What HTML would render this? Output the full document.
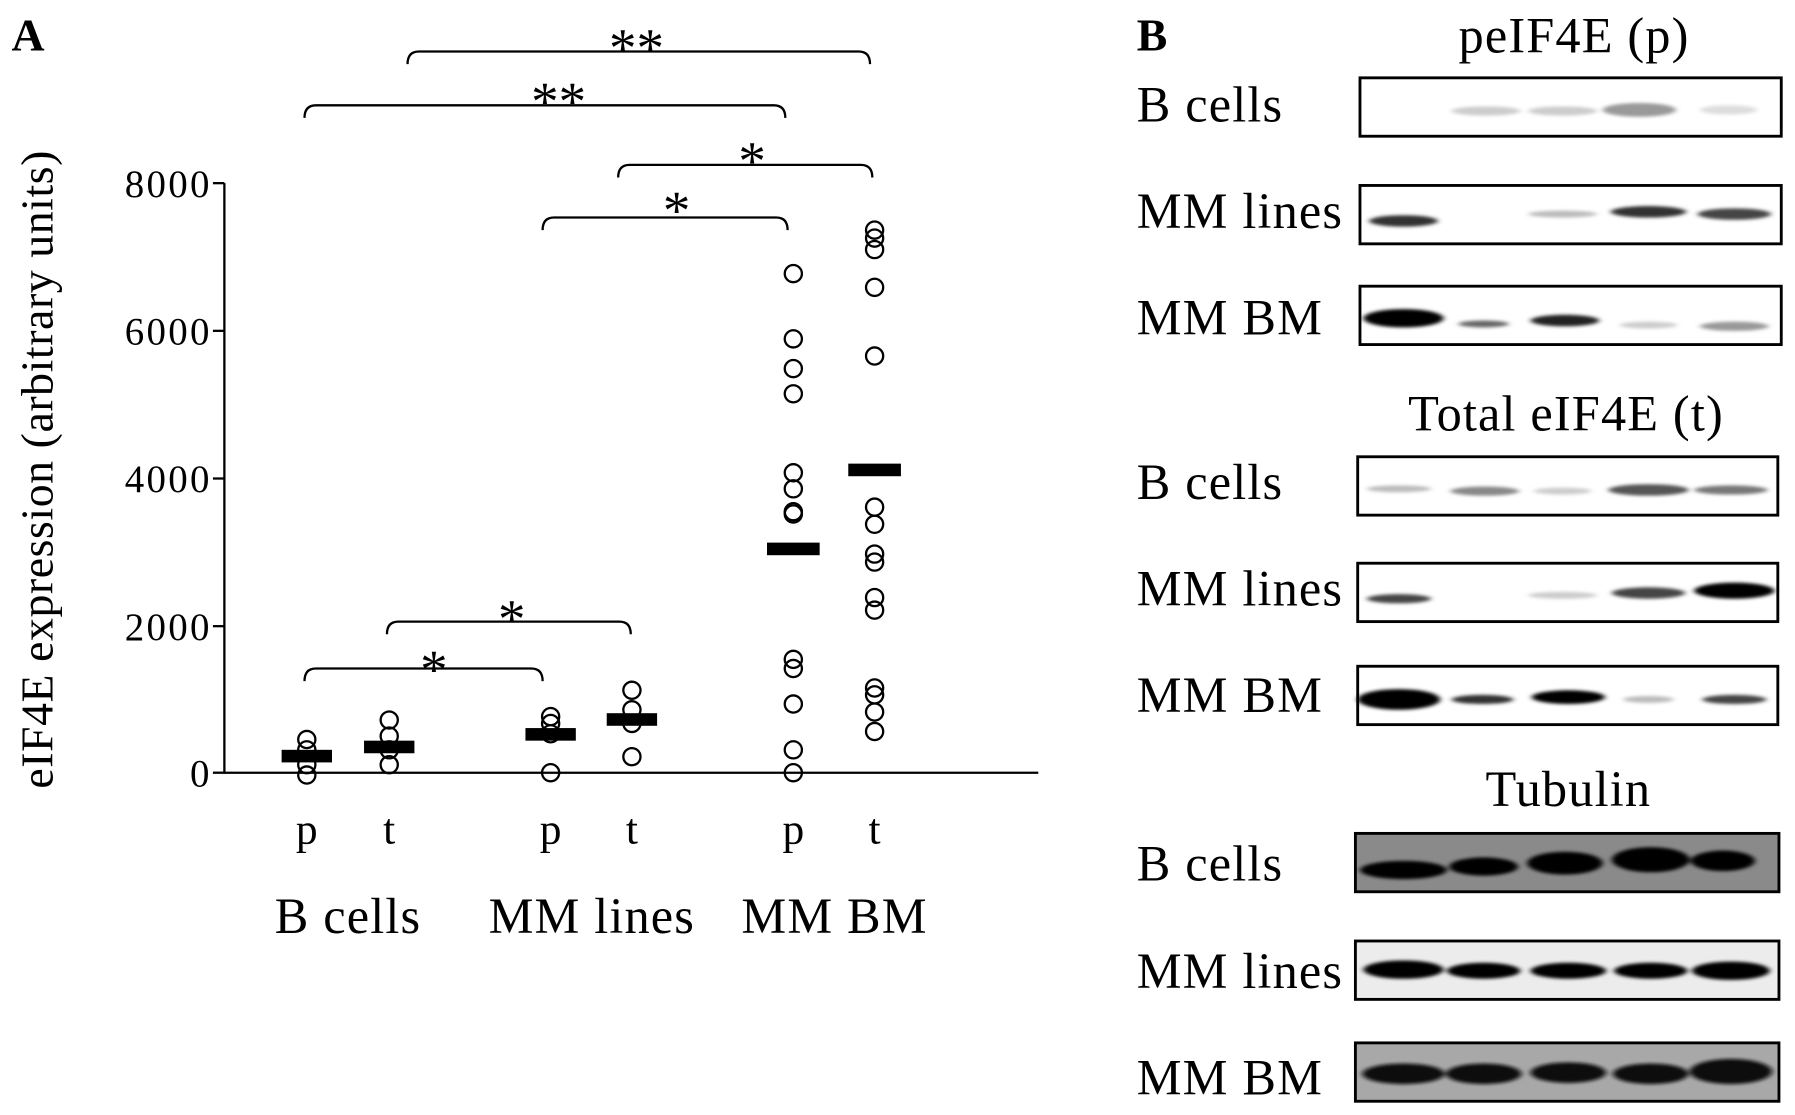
<!DOCTYPE html>
<html><head><meta charset="utf-8"><style>html,body{margin:0;padding:0;background:#fff}svg{display:block}</style></head>
<body>
<svg width="1795" height="1115" viewBox="0 0 1568 974" xmlns="http://www.w3.org/2000/svg" font-family="Liberation Serif, serif">
<defs><filter id="bl" x="-20%" y="-200%" width="140%" height="500%"><feGaussianBlur stdDeviation="2.5 1.5"/></filter></defs>
<text x="10" y="44" font-size="40" font-weight="bold">A</text>
<g stroke="#000" stroke-width="2" fill="none">
<line x1="196" y1="160" x2="196" y2="676"/><line x1="196" y1="675" x2="907" y2="675"/>
<line x1="186" y1="160" x2="196" y2="160"/><line x1="186" y1="289" x2="196" y2="289"/><line x1="186" y1="418" x2="196" y2="418"/><line x1="186" y1="547" x2="196" y2="547"/><line x1="186" y1="675" x2="196" y2="675"/>
<path d="M356 56 Q356 45 366 45 L750 45 Q760 45 760 56"/>
<path d="M266 103 Q266 92 276 92 L676 92 Q686 92 686 103"/>
<path d="M540 155 Q540 144 550 144 L752 144 Q762 144 762 155"/>
<path d="M474 201 Q474 190 484 190 L678 190 Q688 190 688 201"/>
<path d="M338 554 Q338 543 348 543 L541 543 Q551 543 551 554"/>
<path d="M266 595 Q266 584 276 584 L464 584 Q474 584 474 595"/>
</g>
<g font-size="48" text-anchor="middle">
<text x="556" y="58">**</text><text x="488" y="105">**</text><text x="657" y="157">*</text><text x="591" y="200">*</text><text x="447" y="557">*</text><text x="379" y="601">*</text>
</g>
<g font-size="34" text-anchor="end" letter-spacing="2">
<text x="185" y="172">8000</text><text x="185" y="301">6000</text><text x="185" y="430">4000</text><text x="185" y="559">2000</text><text x="185" y="687">0</text>
</g>
<text transform="translate(46,410) rotate(-90)" font-size="40" letter-spacing="0.5" text-anchor="middle">eIF4E expression (arbitrary units)</text>
<g font-size="38" text-anchor="middle">
<text x="268" y="737">p</text><text x="340" y="737">t</text><text x="481" y="737">p</text><text x="552" y="737">t</text><text x="693" y="737">p</text><text x="764" y="737">t</text>
</g>
<g font-size="44" text-anchor="middle" letter-spacing="1">
<text x="304" y="815">B cells</text><text x="517" y="815">MM lines</text><text x="729" y="815">MM BM</text>
</g>
<g stroke="#000" stroke-width="2" fill="none">
<circle cx="268" cy="646" r="7.5"/><circle cx="268" cy="655" r="7.5"/><circle cx="268" cy="668" r="7.5"/><circle cx="268" cy="677" r="7.5"/>
<circle cx="340" cy="629" r="7.5"/><circle cx="340" cy="643" r="7.5"/><circle cx="340" cy="655" r="7.5"/><circle cx="340" cy="668" r="7.5"/>
<circle cx="481" cy="626" r="7.5"/><circle cx="481" cy="632" r="7.5"/><circle cx="481" cy="641" r="7.5"/><circle cx="481" cy="675" r="7.5"/>
<circle cx="552" cy="603" r="7.5"/><circle cx="552" cy="620" r="7.5"/><circle cx="552" cy="632" r="7.5"/><circle cx="552" cy="661" r="7.5"/>
<circle cx="693" cy="239" r="7.5"/><circle cx="693" cy="296" r="7.5"/><circle cx="693" cy="322" r="7.5"/><circle cx="693" cy="344" r="7.5"/><circle cx="693" cy="413" r="7.5"/><circle cx="693" cy="427" r="7.5"/><circle cx="693" cy="447" r="7.5"/><circle cx="693" cy="449" r="7.5"/><circle cx="693" cy="576" r="7.5"/><circle cx="693" cy="584" r="7.5"/><circle cx="693" cy="615" r="7.5"/><circle cx="693" cy="655" r="7.5"/><circle cx="693" cy="675" r="7.5"/>
<circle cx="764" cy="201" r="7.5"/><circle cx="764" cy="208" r="7.5"/><circle cx="764" cy="218" r="7.5"/><circle cx="764" cy="251" r="7.5"/><circle cx="764" cy="311" r="7.5"/><circle cx="764" cy="443" r="7.5"/><circle cx="764" cy="458" r="7.5"/><circle cx="764" cy="484" r="7.5"/><circle cx="764" cy="491" r="7.5"/><circle cx="764" cy="522" r="7.5"/><circle cx="764" cy="533" r="7.5"/><circle cx="764" cy="601" r="7.5"/><circle cx="764" cy="607" r="7.5"/><circle cx="764" cy="622" r="7.5"/><circle cx="764" cy="639" r="7.5"/>
</g>
<g fill="#000">
<rect x="246" y="655" width="44" height="11"/><rect x="318" y="647" width="44" height="11"/><rect x="459" y="636" width="44" height="11"/><rect x="530" y="623" width="44" height="11"/><rect x="670" y="474" width="46" height="11"/><rect x="741" y="405" width="46" height="11"/>
</g>
<text x="993" y="44" font-size="40" font-weight="bold">B</text>
<g font-size="44" letter-spacing="1">
<text x="1375" y="46" text-anchor="middle">peIF4E (p)</text>
<text x="1368" y="376" text-anchor="middle">Total eIF4E (t)</text>
<text x="1370" y="704" text-anchor="middle">Tubulin</text>
<text x="993" y="106">B cells</text><text x="993" y="199">MM lines</text><text x="993" y="292">MM BM</text>
<text x="993" y="436">B cells</text><text x="993" y="529">MM lines</text><text x="993" y="622">MM BM</text>
<text x="993" y="769">B cells</text><text x="993" y="863">MM lines</text><text x="993" y="956">MM BM</text>
</g>
<rect x="1184" y="728" width="370" height="51" fill="#8a8a8a"/>
<rect x="1184" y="822" width="370" height="51" fill="#ececec"/>
<rect x="1184" y="911" width="370" height="51" fill="#a8a8a8"/>
<g filter="url(#bl)">
<ellipse cx="1298" cy="97" rx="30" ry="4" fill="#ccc"/><ellipse cx="1365" cy="97" rx="30" ry="4" fill="#ccc"/><ellipse cx="1432" cy="96" rx="32" ry="6" fill="#999"/><ellipse cx="1510" cy="96" rx="25" ry="4" fill="#ddd"/>
<ellipse cx="1226" cy="193" rx="30" ry="5" fill="#333"/><ellipse cx="1365" cy="187" rx="30" ry="3" fill="#bbb"/><ellipse cx="1440" cy="185" rx="33" ry="5" fill="#333"/><ellipse cx="1515" cy="187" rx="32" ry="5" fill="#444"/>
<ellipse cx="1226" cy="278" rx="35" ry="8" fill="#000"/><ellipse cx="1296" cy="283" rx="22" ry="3" fill="#666"/><ellipse cx="1367" cy="280" rx="30" ry="5" fill="#222"/><ellipse cx="1440" cy="284" rx="25" ry="3" fill="#ccc"/><ellipse cx="1515" cy="285" rx="30" ry="4" fill="#999"/>
<ellipse cx="1222" cy="427" rx="28" ry="3" fill="#bbb"/><ellipse cx="1297" cy="429" rx="30" ry="4" fill="#888"/><ellipse cx="1365" cy="429" rx="25" ry="3" fill="#ccc"/><ellipse cx="1440" cy="428" rx="35" ry="5" fill="#555"/><ellipse cx="1512" cy="428" rx="32" ry="4" fill="#777"/>
<ellipse cx="1222" cy="523" rx="28" ry="4" fill="#444"/><ellipse cx="1365" cy="520" rx="30" ry="3" fill="#ccc"/><ellipse cx="1440" cy="518" rx="32" ry="5" fill="#444"/><ellipse cx="1515" cy="516" rx="35" ry="7" fill="#000"/>
<ellipse cx="1222" cy="611" rx="36" ry="9" fill="#000"/><ellipse cx="1295" cy="611" rx="27" ry="4" fill="#333"/><ellipse cx="1370" cy="609" rx="32" ry="6" fill="#000"/><ellipse cx="1440" cy="611" rx="22" ry="3" fill="#bbb"/><ellipse cx="1515" cy="611" rx="28" ry="4" fill="#444"/>
<ellipse cx="1226" cy="760" rx="38" ry="8" fill="#000"/><ellipse cx="1296" cy="757" rx="30" ry="8" fill="#000"/><ellipse cx="1367" cy="754" rx="33" ry="10" fill="#000"/><ellipse cx="1442" cy="751" rx="34" ry="11" fill="#000"/><ellipse cx="1505" cy="752" rx="28" ry="9" fill="#000"/>
<ellipse cx="1226" cy="847" rx="35" ry="8" fill="#000"/><ellipse cx="1296" cy="848" rx="32" ry="7" fill="#000"/><ellipse cx="1370" cy="848" rx="33" ry="7" fill="#000"/><ellipse cx="1442" cy="848" rx="32" ry="7" fill="#000"/><ellipse cx="1512" cy="848" rx="34" ry="8" fill="#000"/>
<ellipse cx="1226" cy="938" rx="36" ry="9" fill="#111"/><ellipse cx="1296" cy="938" rx="33" ry="9" fill="#111"/><ellipse cx="1370" cy="937" rx="33" ry="9" fill="#111"/><ellipse cx="1442" cy="938" rx="33" ry="9" fill="#111"/><ellipse cx="1512" cy="936" rx="36" ry="11" fill="#111"/>
</g>
<g fill="none" stroke="#000" stroke-width="2.5">
<rect x="1188" y="68" width="368" height="51"/><rect x="1188" y="162" width="368" height="51"/><rect x="1188" y="250" width="368" height="51"/>
<rect x="1186" y="399" width="367" height="51"/><rect x="1186" y="492" width="367" height="51"/><rect x="1186" y="582" width="367" height="51"/>
<rect x="1184" y="728" width="370" height="51"/><rect x="1184" y="822" width="370" height="51"/><rect x="1184" y="911" width="370" height="51"/>
</g>
</svg>
</body></html>
